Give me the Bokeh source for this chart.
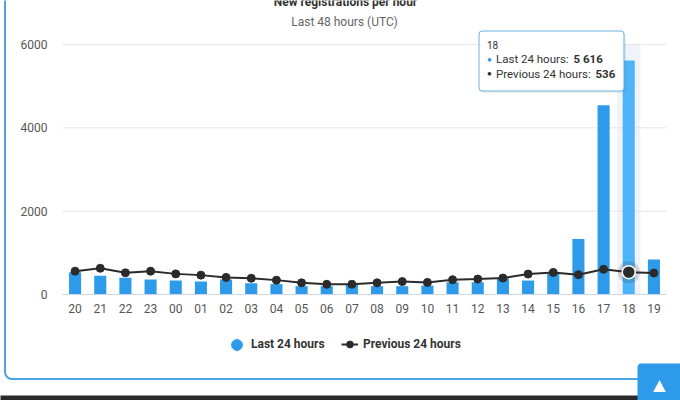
from bokeh.plotting import figure
from bokeh.models import (Range1d, FixedTicker, Legend, LegendItem, Label,
                          BoxAnnotation, PolyAnnotation)
from bokeh.embed import file_html
from bokeh.resources import INLINE

# ---------------- data ----------------
hours = ["20", "21", "22", "23", "00", "01", "02", "03", "04", "05", "06", "07",
         "08", "09", "10", "11", "12", "13", "14", "15", "16", "17", "18", "19"]
last_24 = [535, 450, 400, 360, 335, 310, 360, 270, 250, 200, 200, 230,
           200, 200, 215, 295, 295, 390, 335, 500, 1335, 4540, 5616, 840]
prev_24 = [560, 630, 520, 560, 495, 465, 410, 390, 345, 280, 245, 245,
           280, 310, 290, 355, 370, 395, 490, 530, 475, 605, 536, 515]
y_ticks = [0, 2000, 4000, 6000]
series_names = ["Last 24 hours", "Previous 24 hours"]
title_text = "New registrations per hour"
subtitle_text = "Last 48 hours (UTC)"
hover_hour = "18"

# ---------------- layout / style ----------------
FONT = "Roboto"
BAR = "#2d9bea"
BAR_HOVER = "#4cb4f7"
LINE = "#2b2b2b"
W, H = 680, 400
FL, FR, FT, FB = 62, 666, 44, 294          # plot area in canvas pixels
Y_MAX = y_ticks[-1]

n = len(hours)
idx = list(range(n))
BAND = (FR - FL) / n
x_start = -0.5 - FL / BAND
x_end = x_start + W / BAND
ypp = Y_MAX / (FB - FT)
y_start = -(H - FB) * ypp
y_end = Y_MAX + FT * ypp

p = figure(x_range=Range1d(x_start, x_end), y_range=Range1d(y_start, y_end),
           width=W, height=H, output_backend="svg", toolbar_location=None,
           min_border=0, min_border_left=0, min_border_right=0, min_border_top=0,
           min_border_bottom=0, margin=0,
           background_fill_color="white", border_fill_color="white",
           outline_line_color=None)
p.xgrid.visible = False
p.ygrid.visible = False

# gridlines, limited to the plot area
p.segment(x0=[-0.5] * len(y_ticks), x1=[n - 0.5] * len(y_ticks), y0=y_ticks, y1=y_ticks,
          line_color="#e6e6e6", line_width=1, level="underlay")

# axes (fixed inside the frame)
p.yaxis.fixed_location = -0.5
p.yaxis.ticker = FixedTicker(ticks=y_ticks)
p.yaxis.axis_line_color = None
p.yaxis.major_tick_line_color = None
p.yaxis.minor_tick_line_color = None
p.yaxis.major_tick_out = 0
p.yaxis.major_tick_in = 0
p.yaxis.major_label_standoff = 15
p.yaxis.bounds = (0, Y_MAX)

p.xaxis.fixed_location = 0
p.xaxis.ticker = FixedTicker(ticks=idx)
p.xaxis.major_label_overrides = {i: h for i, h in zip(idx, hours)}
p.xaxis.bounds = (-0.5, n - 0.5)
p.xaxis.axis_line_color = "#ccd6eb"
p.xaxis.major_tick_line_color = None
p.xaxis.minor_tick_line_color = None
p.xaxis.major_tick_out = 0
p.xaxis.major_tick_in = 0
p.xaxis.major_label_standoff = 9
for ax in (p.xaxis, p.yaxis):
    ax.major_label_text_font = FONT
    ax.major_label_text_font_size = "12px"
    ax.major_label_text_color = "#555555"

# hover crosshair band
hi = hours.index(hover_hour)
p.vbar(x=[hi], bottom=[0], top=[Y_MAX], width=0.92, fill_color="#ccd6eb",
       fill_alpha=0.3, line_color=None, level="underlay")

# bars
colors = [BAR_HOVER if h == hover_hour else BAR for h in hours]
p.vbar(x=idx, top=last_24, width=0.48, fill_color=colors, line_color=None)

# line + markers
line_r = p.line(idx, prev_24, line_color=LINE, line_width=2)
mark_r = p.scatter(idx, prev_24, size=8, fill_color=LINE, line_color=LINE)
p.scatter([hi], [prev_24[hi]], size=22, fill_color=LINE, fill_alpha=0.18, line_color=None)
p.scatter([hi], [prev_24[hi]], size=13, fill_color=LINE, line_color="white", line_width=1.5)

# legend symbol for the column series: a hidden circle renderer (legend shows a dot)
proxy = p.scatter(x=[hi], y=[last_24[hi]], marker="circle", fill_color=BAR, line_color=BAR,
                  visible=False)

leg_common = dict(orientation="horizontal", padding=0, margin=0, border_line_color=None,
                  background_fill_alpha=0, label_text_font=FONT, label_text_font_size="12px",
                  label_text_font_style="bold", label_text_color="#333333",
                  inactive_fill_alpha=0, click_policy="none")
leg1 = Legend(items=[LegendItem(label=series_names[0], renderers=[proxy])],
              location=(223, H - 357.5), glyph_width=27, glyph_height=27,
              label_standoff=1, **leg_common)
leg2 = Legend(items=[LegendItem(label=series_names[1], renderers=[line_r, mark_r])],
              location=(341, H - 354), glyph_width=17, glyph_height=20,
              label_standoff=5, **leg_common)
p.add_layout(leg1, "center")
p.add_layout(leg2, "center")

# ---- decorations in screen units (frame == canvas) ----
SCR = dict(x_units="screen", y_units="screen")


def sy(cy):
    return H - cy


def box(l, r, t, b, **kw):
    return BoxAnnotation(left=l, right=r, top=sy(t), bottom=sy(b),
                         left_units="screen", right_units="screen",
                         top_units="screen", bottom_units="screen", **kw)


# titles
p.add_layout(Label(x=345, y=sy(1), text=title_text, text_align="center", text_baseline="middle",
                   text_font=FONT, text_font_size="12px", text_font_style="bold",
                   text_color="#333333", **SCR))
p.add_layout(Label(x=344, y=sy(21), text=subtitle_text, text_align="center", text_baseline="middle",
                   text_font=FONT, text_font_size="12px", text_color="#666666", **SCR))

# card frame, bottom bar, scroll-top button
p.add_layout(box(4.5, 900, -60, 378.5, fill_alpha=0, line_color="#4ca3dd", line_alpha=1,
                 line_width=2, border_radius=7))
p.add_layout(box(-60, 900, 395, 460, fill_color="#2b2b2b", fill_alpha=1, line_color=None))
p.add_layout(box(637, 900, 363, 460, fill_color=BAR, fill_alpha=1, line_color=None, border_radius=4))
p.add_layout(PolyAnnotation(xs=[652.7, 665.3, 659], ys=[sy(391.5), sy(391.5), sy(379.5)],
                            xs_units="screen", ys_units="screen",
                            fill_color="white", fill_alpha=1, line_color=None))

# tooltip
p.add_layout(box(479.5, 625.5, 32.5, 92.5, fill_color="#000000", fill_alpha=0.06,
                 line_color=None, border_radius=3))
p.add_layout(box(478.5, 623.5, 30.5, 90.5, fill_color="white", fill_alpha=0.95,
                 line_color="#6cb2e6", line_alpha=1, line_width=1, border_radius=3))
tt = dict(text_font=FONT, text_baseline="middle", **SCR)
p.add_layout(Label(x=486.5, y=sy(44), text=hover_hour, text_font_size="10px",
                   text_color="#333333", **tt))
p.add_layout(Label(x=489, y=sy(58.5), text="\u25cf", text_font_size="8px", text_align="center",
                   text_color=BAR, **tt))
p.add_layout(Label(x=495.5, y=sy(58.5), text=series_names[0] + ":", text_font_size="11.5px",
                   text_color="#333333", **tt))
p.add_layout(Label(x=573, y=sy(58.5), text=f"{last_24[hi]:,}".replace(",", " "),
                   text_font_size="11.5px", text_font_style="bold", text_color="#333333", **tt))
p.add_layout(Label(x=489, y=sy(73), text="\u25cf", text_font_size="8px", text_align="center",
                   text_color=LINE, **tt))
p.add_layout(Label(x=495.5, y=sy(73), text=series_names[1] + ":", text_font_size="11.5px",
                   text_color="#333333", **tt))
p.add_layout(Label(x=595, y=sy(73), text=f"{prev_24[hi]:,}".replace(",", " "),
                   text_font_size="11.5px", text_font_style="bold", text_color="#333333", **tt))

open("out.html", "w").write(file_html(p, INLINE))
